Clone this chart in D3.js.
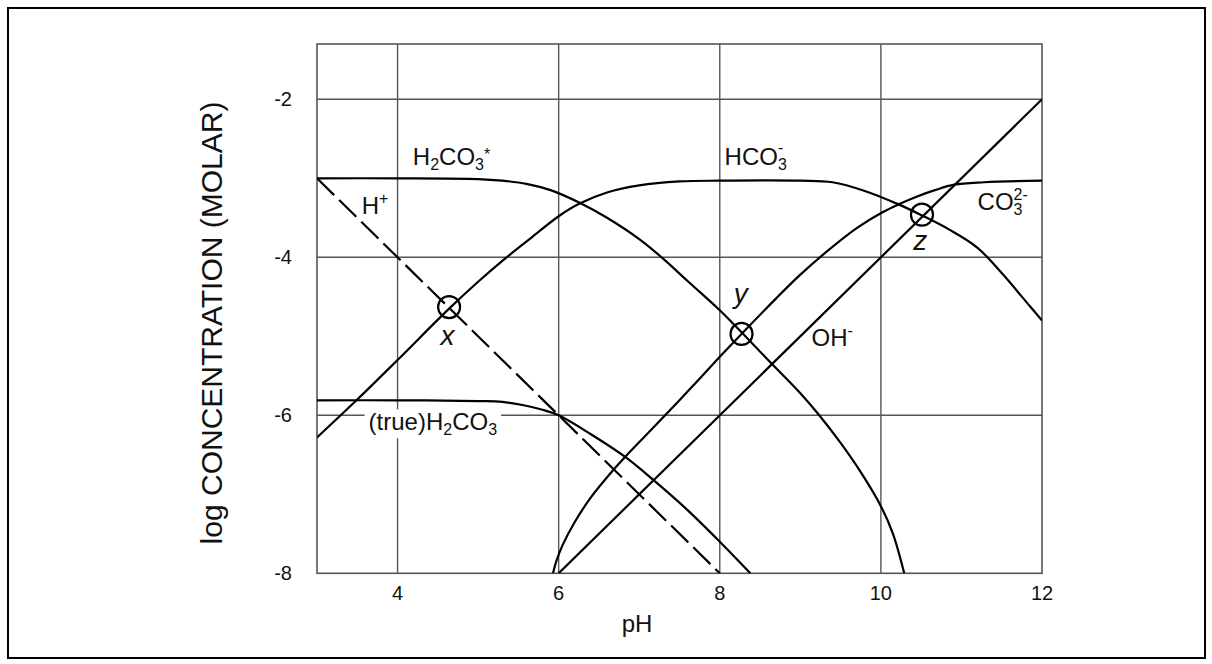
<!DOCTYPE html>
<html>
<head>
<meta charset="utf-8">
<script src="https://cdn.jsdelivr.net/npm/d3@7"></script>
<style>
html,body{margin:0;padding:0;background:#fff;}
svg{display:block;font-family:"Liberation Sans",Arial,Helvetica,sans-serif;}
</style>
</head>
<body>
<svg id="chart" width="1212" height="664"></svg>
<script>
// ---- data ----
const xTicks = [4, 6, 8, 10, 12];
const yTicks = [-2, -4, -6, -8];
const xTitle = "pH";
const yTitle = "log CONCENTRATION (MOLAR)";

// [pH, log C]
const h2co3Star = [[3,-3.0],[4,-3.0],[5,-3.01],[5.3,-3.03],[5.6,-3.07],[5.9,-3.15],[6.26,-3.31],[6.6,-3.5],[7,-3.77],[7.3,-4.02],[7.6,-4.3],[8,-4.67],[8.27,-4.95],[8.6,-5.3],[9,-5.72],[9.22,-5.98],[9.5,-6.35],[9.75,-6.72],[10,-7.15],[10.15,-7.5],[10.29,-8.0]];
const hco3 = [[3,-6.28],[3.5,-5.8],[4,-5.3],[4.64,-4.65],[5,-4.31],[5.33,-4.02],[5.65,-3.76],[6,-3.48],[6.26,-3.32],[6.6,-3.18],[7,-3.09],[7.5,-3.04],[8,-3.03],[9,-3.03],[9.4,-3.05],[9.8,-3.16],[10.22,-3.33],[10.51,-3.47],[10.85,-3.65],[11.2,-3.88],[11.5,-4.2],[11.85,-4.62],[12,-4.8]];
const co3 = [[5.93,-8.0],[5.97,-7.85],[6.05,-7.64],[6.2,-7.35],[6.4,-7.04],[6.68,-6.69],[6.83,-6.52],[7.2,-6.13],[7.6,-5.7],[8,-5.26],[8.27,-4.97],[8.7,-4.52],[9,-4.22],[9.36,-3.9],[9.7,-3.63],[10.02,-3.43],[10.22,-3.33],[10.45,-3.23],[10.67,-3.15],[10.91,-3.08],[11.28,-3.05],[12,-3.03]];
const trueH2co3 = [[3,-5.81],[4,-5.81],[5,-5.82],[5.3,-5.83],[5.55,-5.87],[5.8,-5.93],[6,-6.0],[6.4,-6.24],[6.83,-6.53],[7.2,-6.84],[7.6,-7.2],[8,-7.6],[8.38,-8.0]];
const hPlus = [[3,-3],[8,-8]];
const ohMinus = [[6,-8],[12,-2]];
// marked equivalence points x, y, z
const pointNames = ["x", "y", "z"];
const pointPH = [4.64, 8.27, 10.51];
const pointLogC = [-4.63, -4.97, -3.46];

// ---- layout ----
const svg = d3.select("#chart");
const x = d3.scaleLinear().domain([3, 12]).range([317, 1042]);
const y = d3.scaleLinear().domain([-8, -1.3]).range([573.3, 44]);

// outer frame
svg.append("rect").attr("x", 8).attr("y", 8).attr("width", 1197).attr("height", 650)
  .attr("fill", "none").attr("stroke", "#000").attr("stroke-width", 2);

const grid = svg.append("g").attr("stroke", "#555").attr("stroke-width", 1.4);
xTicks.filter(v => v < 12).forEach(v => {
  grid.append("line").attr("x1", x(v)).attr("x2", x(v)).attr("y1", y(-1.3)).attr("y2", y(-8));
});
yTicks.filter(v => v > -8).forEach(v => {
  grid.append("line").attr("x1", x(3)).attr("x2", x(12)).attr("y1", y(v)).attr("y2", y(v));
});
svg.append("rect").attr("x", x(3)).attr("y", y(-1.3)).attr("width", x(12) - x(3)).attr("height", y(-8) - y(-1.3))
  .attr("fill", "none").attr("stroke", "#555").attr("stroke-width", 1.6);

// tick labels
svg.append("g").selectAll("text").data(xTicks).join("text")
  .attr("x", d => x(d)).attr("y", 600).attr("text-anchor", "middle")
  .attr("font-size", 20).attr("fill", "#111").text(d => d);
svg.append("g").selectAll("text").data(yTicks).join("text")
  .attr("x", 292).attr("y", d => y(d)).attr("dy", "0.35em").attr("text-anchor", "end")
  .attr("font-size", 20).attr("fill", "#111").text(d => d);

// axis titles
svg.append("text").attr("x", 637).attr("y", 632).attr("text-anchor", "middle")
  .attr("font-size", 24).attr("fill", "#111").text(xTitle);
svg.append("text").attr("transform", "translate(222,323) rotate(-90)").attr("text-anchor", "middle")
  .attr("font-size", 30).attr("fill", "#111").text(yTitle);

// curves
svg.append("clipPath").attr("id", "plotclip").append("rect")
  .attr("x", x(3)).attr("y", y(-1.3)).attr("width", x(12) - x(3)).attr("height", y(-8) - y(-1.3));
const curves = svg.append("g").attr("clip-path", "url(#plotclip)")
  .attr("fill", "none").attr("stroke", "#000").attr("stroke-width", 2.2);
const line = d3.line().x(d => x(d[0])).y(d => y(d[1])).curve(d3.curveCatmullRom.alpha(0.5));
[h2co3Star, hco3, co3, trueH2co3, ohMinus].forEach(s => curves.append("path").attr("d", line(s)));
curves.append("path").attr("d", line(hPlus)).attr("stroke-dasharray", "24,7");

// circles
svg.append("g").selectAll("circle").data(pointPH).join("circle")
  .attr("cx", d => x(d)).attr("cy", (d, i) => y(pointLogC[i])).attr("r", 11)
  .attr("fill", "none").attr("stroke", "#000").attr("stroke-width", 2.2);

// italic point labels
const pointLabelPos = [[4.62, -5.11], [8.26, -4.58], [10.49, -3.91]];
svg.append("g").selectAll("text").data(pointNames).join("text")
  .attr("x", (d, i) => x(pointLabelPos[i][0])).attr("y", (d, i) => y(pointLabelPos[i][1]))
  .attr("text-anchor", "middle").attr("font-size", 28).attr("font-style", "italic")
  .attr("fill", "#111").text(d => d);

// species labels with sub/superscripts
function richLabel(px, py, parts, opts = {}) {
  const g = svg.append("g");
  const t = g.append("text").attr("x", px).attr("y", py).attr("font-size", 24).attr("fill", "#111");
  let cur = 0, prevW = 0;
  parts.forEach(p => {
    const target = p.off || 0;
    const ts = t.append("tspan").text(p.t).attr("dy", target - cur);
    if (p.off) ts.attr("font-size", 16);
    if (p.stack) ts.attr("dx", -prevW);
    cur = target;
    prevW = ts.node().getComputedTextLength();
  });
  if (opts.bg) {
    const b = t.node().getBBox();
    g.insert("rect", "text").attr("x", b.x - 4).attr("y", b.y + 1).attr("width", b.width + 8)
      .attr("height", b.height - 1).attr("fill", "#fff");
  }
}
richLabel(x(4.19), y(-2.83), [{t:"H"},{t:"2",off:5},{t:"CO"},{t:"3",off:5},{t:"*",off:-5}]);
richLabel(x(3.555), y(-3.45), [{t:"H"},{t:"+",off:-10}]);
richLabel(x(8.06), y(-2.83), [{t:"HCO"},{t:"3",off:5},{t:"-",off:-12,stack:true}]);
richLabel(x(11.2), y(-3.40), [{t:"CO"},{t:"3",off:5},{t:"2-",off:-10,stack:true}]);
richLabel(x(9.14), y(-5.12), [{t:"OH"},{t:"-",off:-10}]);
richLabel(x(3.64), y(-6.19), [{t:"(true)H"},{t:"2",off:5},{t:"CO"},{t:"3",off:5}], {bg:true});
</script>
</body>
</html>
